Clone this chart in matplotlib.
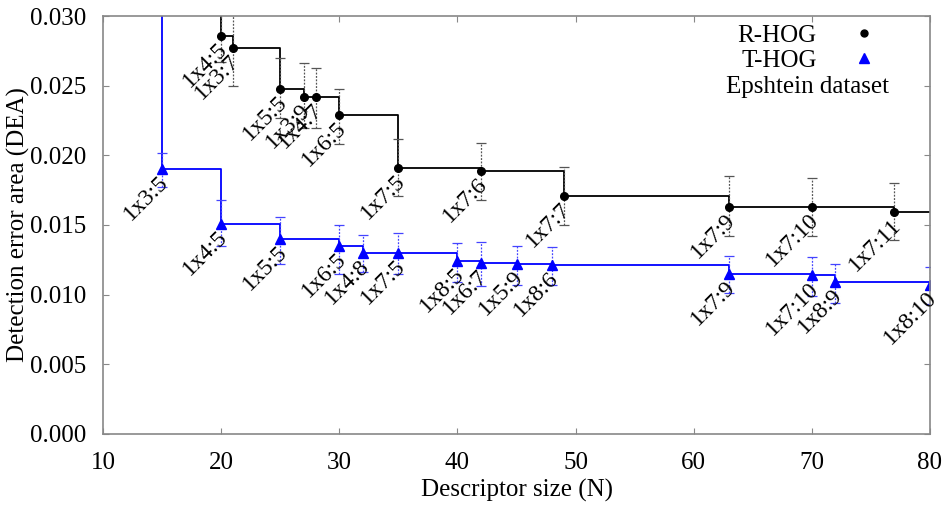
import matplotlib
matplotlib.use('Agg')
import matplotlib.pyplot as plt
from matplotlib.lines import Line2D

plt.rcParams['font.family'] = ['Liberation Serif', 'DejaVu Serif']

# R-HOG (puntos negros)
r_n = [15, 20, 21, 25, 27, 28, 30, 35, 42, 49, 63, 70, 77, 84]
r_dea = [0.0330, 0.0286, 0.0277, 0.0248, 0.0242, 0.0242, 0.0229, 0.0191,
         0.0189, 0.0171, 0.0163, 0.0163, 0.0159, 0.0155]
r_lo = [0.0310, 0.0267, 0.0250, 0.0227, 0.0220, 0.0220, 0.0208, 0.0171,
        0.0168, 0.0150, 0.0142, 0.0142, 0.0139, 0.0135]
r_hi = [0.0350, 0.0305, 0.0304, 0.0270, 0.0266, 0.0263, 0.0248, 0.0212,
        0.0209, 0.0192, 0.0185, 0.0184, 0.0180, 0.0175]
r_lab = ['1x3:5', '1x4:5', '1x3:7', '1x5:5', '1x3:9', '1x4:7', '1x6:5', '1x7:5',
         '1x7:6', '1x7:7', '1x7:9', '1x7:10', '1x7:11', '1x7:12']

# T-HOG (triangulos azules)
t_n = [10, 15, 20, 25, 30, 32, 35, 40, 42, 45, 48, 63, 70, 72, 80]
t_dea = [0.0340, 0.0190, 0.0151, 0.0140, 0.0135, 0.0130, 0.0130, 0.0124,
         0.0123, 0.0122, 0.0121, 0.0115, 0.0114, 0.0109, 0.0107]
t_lo = [0.0320, 0.0177, 0.0135, 0.0122, 0.0115, 0.0116, 0.0115, 0.0109,
        0.0106, 0.0107, 0.0107, 0.0101, 0.0099, 0.0094, 0.0093]
t_hi = [0.0360, 0.0202, 0.0168, 0.0156, 0.0150, 0.0143, 0.0144, 0.0137,
        0.0138, 0.0135, 0.0134, 0.0128, 0.0127, 0.0122, 0.0120]
t_lab = ['1x2:5', '1x3:5', '1x4:5', '1x5:5', '1x6:5', '1x4:8', '1x7:5', '1x8:5',
         '1x6:7', '1x5:9', '1x8:6', '1x7:9', '1x7:10', '1x8:9', '1x8:10']

fig = plt.figure(figsize=(9.46, 5.05), dpi=100)
ax = fig.add_axes([0.109, 0.141, 0.874, 0.827])


def serie(n, dea, lo, hi, lab, color, barcolor, marker, ms):
    ax.plot(n, dea, color=color, lw=1.3, drawstyle='steps-post')
    yerr = [[d - l for d, l in zip(dea, lo)], [h - d for d, h in zip(dea, hi)]]
    eb = ax.errorbar(n, dea, yerr=yerr, fmt='none', ecolor=barcolor,
                     elinewidth=0.9, capsize=3.6, capthick=0.9)
    eb[2][0].set_linestyle((0, (1.5, 1.2)))
    ax.plot(n, dea, ls='none', marker=marker, color=color, ms=ms)
    for x, y, t in zip(n, dea, lab):
        ax.annotate(t, (x, y), xytext=(-3, -2), textcoords='offset points',
                    rotation=45, rotation_mode='anchor', ha='right', va='top',
                    fontsize=17)


serie(r_n, r_dea, r_lo, r_hi, r_lab, 'black', '#555555', 'o', 5.5)
serie(t_n, t_dea, t_lo, t_hi, t_lab, '#0000ff', '#4444ff', '^', 7.5)

ax.set_xlim(10, 80)
ax.set_ylim(0, 0.030)
ax.set_xticks(range(10, 81, 10))
ax.set_yticks([0, 0.005, 0.010, 0.015, 0.020, 0.025, 0.030])
ax.set_yticklabels(['0.000', '0.005', '0.010', '0.015', '0.020', '0.025', '0.030'])
ax.tick_params(direction='in', top=True, right=True, labelsize=18,
               length=4, color='#888888')
ax.tick_params(axis='x', pad=13)
ax.tick_params(axis='y', pad=12)
for s in ax.spines.values():
    s.set_color('#888888')
    s.set_linewidth(1.2)

ax.set_xlabel('Descriptor size (N)', fontsize=18, labelpad=4)
ax.set_ylabel('Detection error area (DEA)', fontsize=18, labelpad=0)

handles = [Line2D([], [], ls='none', marker='o', color='black', ms=5),
           Line2D([], [], ls='none', marker='^', color='#0000ff', ms=7)]
ax.legend(handles, ['R-HOG', 'T-HOG'], loc='upper right', markerfirst=False,
          frameon=False, fontsize=18, bbox_to_anchor=(0.978, 1.035),
          handletextpad=0.9, labelspacing=0.12)
ax.text(0.95, 0.83, 'Epshtein dataset', transform=ax.transAxes,
        ha='right', va='center', fontsize=18)

fig.savefig('out.png', dpi=100)
